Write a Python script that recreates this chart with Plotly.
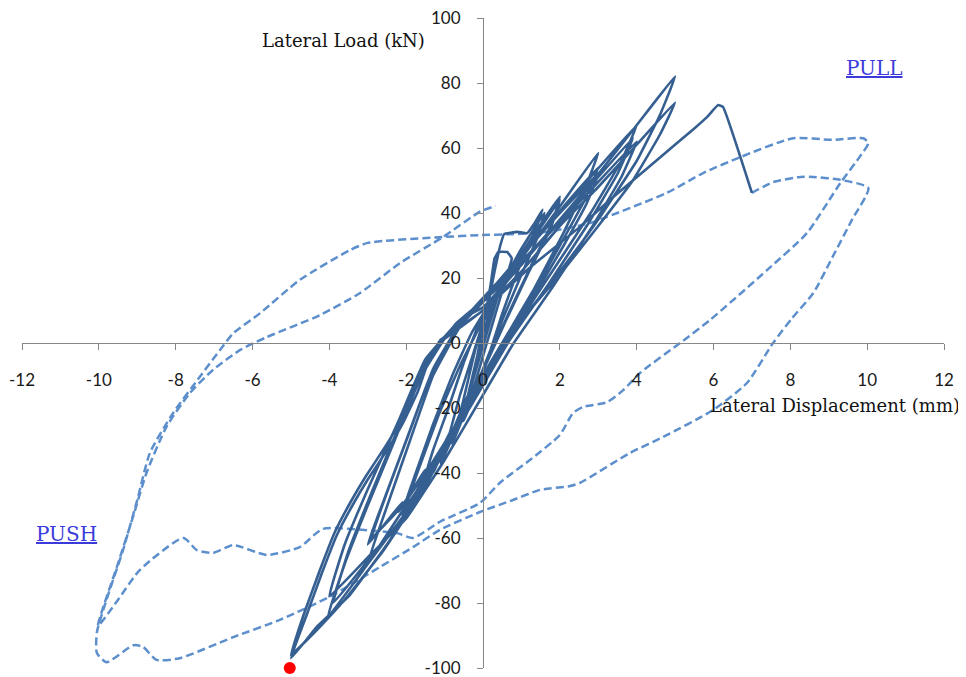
import plotly.graph_objects as go

# ---------------- data ----------------
# Solid hysteresis curve: lateral displacement (mm) / lateral load (kN)
solid_x = [
    0.0, 0.15, 0.3, 0.2, 0.05, -0.15, -0.3, -0.2, -0.05, 0.2, 0.5, 0.4, 0.15, -0.1, -0.3, -0.5, -0.35, -0.15,
    0.05, 0.2, 0.3, 0.4, 0.63, 0.75, 0.6, 0.35, 0.1, -0.2, -0.5, -0.8, -0.6, -0.4, -0.2,
    0.1, 0.3, 0.45, 0.55, 0.9, 1.15, 1.35, 1.55, 1.3, 0.9, 0.5, 0.2, -0.2, -0.5, -0.45, -0.8, -0.75, -1.1, -0.85, -0.6, -0.3,
    0.0, 0.5, 1.0, 1.6, 1.4, 1.0, 0.5, 0.1, -0.3, -0.25, -0.7, -0.65, -1.1, -1.0, -1.6, -1.3, -0.9, -0.5,
    -0.1, 0.6, 1.3, 2.0, 1.8, 1.3, 0.7, 0.2, -0.4, -0.35, -0.9, -0.85, -1.4, -1.3, -2.1, -1.75, -1.3, -0.8,
    -0.3, 0.5, 1.3, 2.0, 1.75, 1.2, 0.6, 0.1, -0.6, -0.55, -1.3, -1.2, -2.0, -1.65, -1.15, -0.6,
    0.0, 1.0, 2.0, 3.0, 2.7, 2.1, 1.3, 0.5, -0.3, -1.2, -1.1, -2.1, -2.0, -3.0, -2.55, -1.9, -1.3, -0.6,
    0.3, 1.2, 2.1, 3.0, 2.65, 2.0, 1.2, 0.4, -0.4, -1.3, -1.2, -2.2, -2.1, -3.0, -2.6, -2.0, -1.4, -0.7,
    0.2, 1.1, 2.0, 3.0, 2.7, 2.1, 1.3, 0.5, -0.3, -0.9, -0.8, -1.6, -1.5, -2.1, -2.9, -2.5, -1.9, -1.3, -0.6,
    0.4, 1.5, 2.8, 4.0, 3.6, 2.8, 1.8, 0.8, 0.0, -1.0, -2.0, -3.0, -4.04, -3.6, -3.0, -2.3, -1.6, -0.9,
    0.1, 1.4, 2.7, 3.9, 3.5, 2.7, 1.7, 0.7, -0.1, -1.1, -2.1, -3.0, -3.9, -3.5, -2.9, -2.2, -1.5, -0.7,
    0.3, 1.5, 2.8, 4.0, 3.6, 2.8, 1.8, 0.8, 0.0, -1.0, -2.0, -3.0, -4.0, -3.6, -3.0, -2.2, -1.5, -0.6,
    0.0, 1.0, 2.0, 3.0, 4.0, 5.0, 4.6, 4.0, 3.0, 2.0, 1.0, 0.3, -0.5, -1.5, -2.5, -3.5, -4.3, -5.0,
    -4.6, -4.2, -3.8, -3.4, -3.0, -2.5, -2.1, -1.7, -1.4, -1.1, -0.6,
    0.0, 1.0, 2.0, 3.0, 4.0, 5.0, 4.6, 3.9, 3.0, 2.0, 1.0, 0.2, -0.6, -1.6, -2.6, -3.6, -4.3, -5.0,
    -4.65, -4.25, -3.85, -3.45, -3.05, -2.55, -2.15, -1.75, -1.45, -1.15, -0.8,
    0.0, 1.2, 2.5, 3.3, 4.5, 5.5, 5.83, 6.12, 6.25, 7.0,
]
solid_y = [
    0, 6, 12, 8, 2, -5, -12, -7, 1, 10, 20, 15, 5, -5, -13, -22, -14, -4,
    8, 18, 26, 28, 28, 26, 20, 10, 0, -12, -22, -30, -22, -12, -2,
    10, 22, 30, 33.5, 34.2, 33.8, 37, 41, 33, 22, 9, -2, -15, -24, -21, -31, -28, -37, -27, -16, -5,
    6, 18, 29, 40, 32, 21, 7, -5, -17, -14, -27, -24, -37, -33, -45, -33, -20, -6,
    6, 20, 33, 45, 37, 25, 10, -3, -18, -15, -30, -27, -41, -38, -52, -40, -25, -10,
    3, 18, 32, 44, 35, 22, 7, -6, -24, -21, -40, -37, -50, -38, -22, -7,
    7, 26, 42, 58.5, 49, 34, 16, 0, -17, -36, -33, -53, -50, -67.7, -52, -30, -10, 5,
    17, 30, 42, 54, 44, 30, 13, -2, -19, -38, -35, -52, -49, -62, -49, -30, -11, 4,
    15, 28, 40, 52, 43, 30, 14, 0, -16, -30, -27, -42, -39, -50, -60, -46, -27, -8, 6,
    19, 34, 51, 67, 56, 40, 22, 4, -12, -33, -52, -68, -84.3, -68, -50, -30, -10, 3,
    14, 30, 47, 63, 52, 36, 18, 1, -15, -35, -54, -67, -80, -64, -46, -26, -7, 6,
    16, 31, 47, 62, 51, 35, 17, 0, -16, -36, -54, -66, -78, -62, -45, -24, -5, 7,
    11, 24, 38, 52, 67, 82, 70, 56, 38, 22, 7, -5, -22, -44, -62, -78, -87, -97,
    -84, -71, -59, -50, -42, -33, -25, -15, -5, 1, 5,
    10, 22, 36, 48, 61, 74, 64, 50, 36, 21, 7, -6, -24, -46, -64, -79, -88, -96,
    -83, -70, -58, -49, -41, -32, -24, -14, -5, 0, 3,
    10, 23, 35.5, 44, 56, 66, 69.5, 73.2, 72.6, 46.2,
]

# Dashed curve (post-peak cycles)
dashed_x = [
    7.0, 7.55, 8.26, 8.6, 9.3, 10.03, 9.6, 9.1, 8.6, 8.05, 7.55, 6.87, 5.99, 4.69, 3.83, 2.53, 2.27, 1.48, 0.78,
    -0.08, -1.12, -1.82, -2.68, -3.98, -5.29, -6.5, -7.9, -8.5, -8.85, -9.1, -9.8, -10.05, -10.05,
    -9.8, -9.37, -9.0, -8.67, -8.07, -7.37, -6.85, -6.5, -5.8, -4.77, -3.46, -3.0, -1.04, -0.08, 0.78, 1.67,
    2.79, 3.23, 4.79, 5.73, 6.7, 8.07, 9.1, 9.9, 10.03, 9.8, 9.3, 8.43, 7.4, 5.9, 5.13, 4.09, 3.65, 3.23,
    2.6, 2.34, 2.0, 1.22, 0.44, -0.08, -1.12, -1.82, -2.24, -2.86, -4.17, -4.77, -5.63, -6.5, -7.03, -7.45,
    -7.8, -8.93, -9.5, -10.02,
    -9.53, -9.11, -8.76, -8.24, -7.63, -7.03, -6.33, -5.63, -4.24, -3.2, -2.16, -1.04, -0.08, 0.33,
]
dashed_y = [
    46.2, 49.5, 51.1, 51.1, 50.2, 47.7, 37.8, 26.5, 15.4, 7.7, 0, -12.3, -20.6, -28.9, -33.8, -43, -44, -45.2, -48.3,
    -52, -57.5, -62.8, -68.9, -78, -85.2, -90.5, -97, -97.5, -93.5, -93, -98.2, -95.4, -89,
    -79, -63.7, -48.3, -33.8, -21.6, -10.4, -2.2, 3, 9.2, 19.4, 28.6, 30.8, 32.6, 33.2, 33.5, 34.2,
    36.9, 38.8, 46.2, 52.3, 57.2, 63, 62.5, 63, 61.5, 57.2, 49.2, 33.8, 22.5, 7, 0, -9.2, -14.5, -18.2,
    -19.7, -21.6, -28.3, -36, -43, -49.2, -55, -60, -58.5, -57.8, -57.2, -62.8, -65.2, -62.2, -64.6, -63.7,
    -60, -69.8, -79, -87,
    -68.9, -53.5, -40, -25.8, -15.4, -8.3, -2.2, 1.8, 8.6, 15.4, 24.6, 32.6, 40.4, 42.2,
]

# Ultimate point marker
peak_x = [-5.03]
peak_y = [-100.0]

x_ticks = [-12, -10, -8, -6, -4, -2, 0, 2, 4, 6, 8, 10, 12]
y_ticks = [-100, -80, -60, -40, -20, 0, 20, 40, 60, 80, 100]

# ---------------- figure ----------------
fig = go.Figure()

fig.add_trace(go.Scatter(
    x=dashed_x, y=dashed_y, mode="lines",
    line=dict(color="#5d8fcc", width=2.5, dash="8px,4px", shape="spline", smoothing=0.6),
    hoverinfo="skip", showlegend=False,
))
fig.add_trace(go.Scatter(
    x=solid_x, y=solid_y, mode="lines",
    line=dict(color="#365f91", width=2.6, shape="spline", smoothing=0.3),
    hoverinfo="skip", showlegend=False,
))
fig.add_trace(go.Scatter(
    x=peak_x, y=peak_y, mode="markers",
    marker=dict(color="#ff0000", size=12, line=dict(width=0)),
    cliponaxis=False, hoverinfo="skip", showlegend=False,
))

tick_font = dict(family="Lato, Open Sans, sans-serif", size=17, color="#1a1a1a")

# The page body adds an 8px offset, so the figure is sized/margined to compensate.
fig.update_layout(
    width=958, height=669,
    margin=dict(l=14, r=22, t=10, b=9, autoexpand=False),
    paper_bgcolor="white", plot_bgcolor="white",
    showlegend=False,
    xaxis=dict(
        range=[-12, 12], tickvals=x_ticks, ticktext=[str(v) for v in x_ticks],
        anchor="free", position=0.5, side="bottom", automargin=False,
        showline=True, linecolor="#868686", linewidth=1.2,
        ticks="outside", ticklen=6, tickcolor="#868686", tickwidth=1.2,
        ticklabelstandoff=15, ticklabeloverflow="allow",
        showgrid=False, zeroline=False, tickfont=tick_font,
    ),
    yaxis=dict(
        range=[-100, 100], tickvals=y_ticks, ticktext=[str(v) for v in y_ticks],
        anchor="free", position=0.5, side="left", automargin=False,
        showline=True, linecolor="#868686", linewidth=1.2,
        ticks="outside", ticklen=6, tickcolor="#868686", tickwidth=1.2,
        ticklabelstandoff=13, ticklabeloverflow="allow",
        showgrid=False, zeroline=False, tickfont=tick_font,
    ),
)

serif = "DejaVu Serif, Liberation Serif, serif"
fig.add_annotation(text="Lateral Load (kN)", xref="paper", yref="paper",
                   x=(260 - 22) / 922, y=(668 - 40) / 650, xanchor="left", yanchor="middle",
                   showarrow=False, font=dict(family=serif, size=18, color="#111111"))
fig.add_annotation(text="Lateral Displacement (mm)", xref="paper", yref="paper",
                   x=(962 - 22) / 922, y=(668 - 405) / 650, xanchor="right", yanchor="middle",
                   showarrow=False, font=dict(family=serif, size=18, color="#111111"))
fig.add_annotation(text="<u>PULL</u>", xref="paper", yref="paper",
                   x=(874 - 22) / 922, y=(668 - 68) / 650, xanchor="center", yanchor="middle",
                   showarrow=False, font=dict(family=serif, size=20, color="#3b3bdc"))
fig.add_annotation(text="<u>PUSH</u>", xref="paper", yref="paper",
                   x=(66 - 22) / 922, y=(668 - 534) / 650, xanchor="center", yanchor="middle",
                   showarrow=False, font=dict(family=serif, size=20, color="#3b3bdc"))

fig.write_html("out.html")
